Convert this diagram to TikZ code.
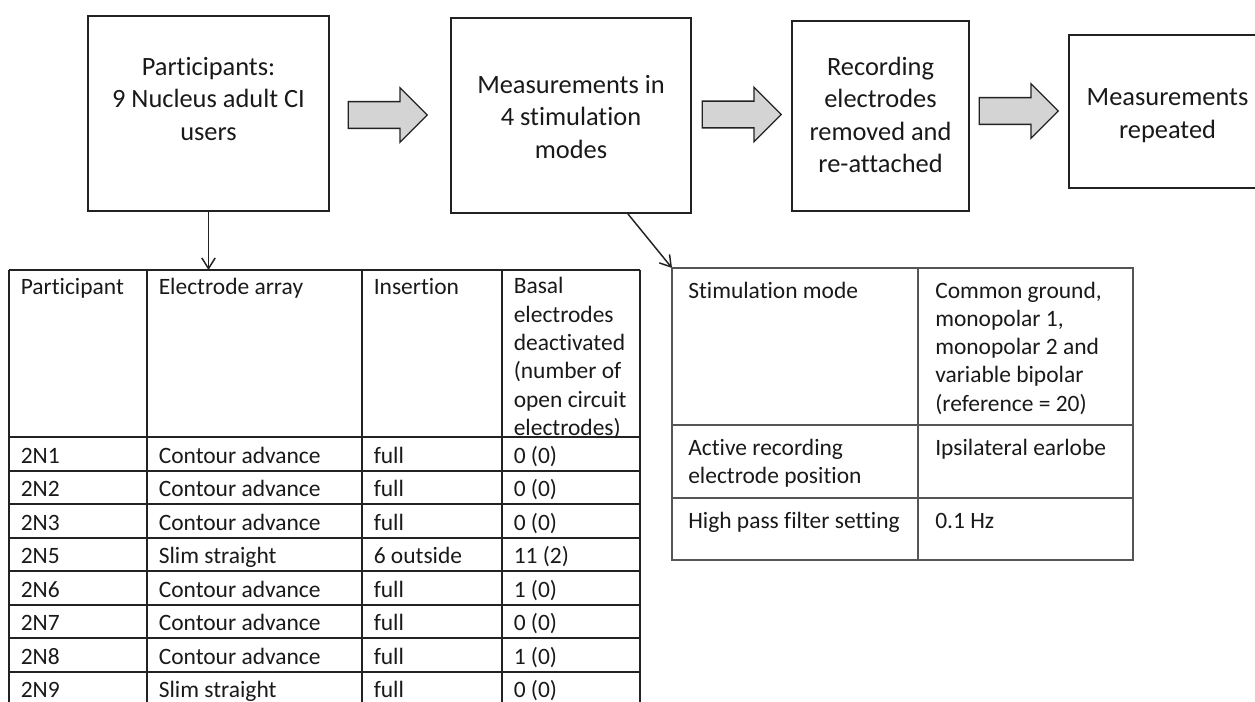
\documentclass[tikz,border=0pt]{standalone}
\usepackage{fontspec}
\setmainfont{Carlito}[Ligatures=NoCommon]
\usetikzlibrary{shapes.arrows}
\usetikzlibrary{arrows.meta}

\definecolor{boxline}{RGB}{34,34,34}
\definecolor{arrowfill}{RGB}{212,212,212}
\definecolor{gridline}{RGB}{85,85,85}

\newcommand{\boxfont}{\fontsize{19.8pt}{24.4pt}\selectfont}
\newcommand{\cellfont}{\fontsize{17.6pt}{21.2pt}\selectfont}

\tikzset{
  stepbox/.style={draw=boxline, line width=1.5pt, rectangle, inner sep=0pt},
  boxtext/.style={font=\boxfont, align=center, text=black!90, inner sep=0pt},
  fatarrow/.style={single arrow, draw=boxline, fill=arrowfill, line width=1pt, inner xsep=0pt,
    inner ysep=9.56pt, minimum height=59.25pt, minimum width=39.75pt, single arrow head extend=10.3pt},
  conn/.style={draw=boxline, line width=1.1pt, -{Straight Barb[length=8pt,width=10pt]}},
  cell/.style={font=\cellfont, anchor=base west, align=left, inner sep=0pt, text=black!90},
  gridA/.style={draw=boxline, line width=1.5pt},
  gridB/.style={draw=gridline, line width=1pt},
}

\begin{document}
\begin{tikzpicture}[x=0.75pt,y=0.75pt,yscale=-1,xscale=1]
\useasboundingbox (0,0) rectangle (1255,702);
\clip (0,0) rectangle (1255,702);

%Shape: Rectangle
\node[stepbox, minimum width=180.75pt, minimum height=146.25pt] (part) at (208.5,113.5) {};
%Shape: Rectangle
\node[stepbox, minimum width=180pt, minimum height=146.25pt] (meas) at (571,115.5) {};
%Shape: Rectangle
\node[stepbox, minimum width=132.75pt, minimum height=142.5pt] (reco) at (880.5,116) {};
%Shape: Rectangle
\node[stepbox, minimum width=147.75pt, minimum height=114.75pt] (rep) at (1167.5,111.5) {};

% Text Node
\node[boxtext] (partlbl) at (208.5,99) {Participants:\\9 Nucleus adult CI\\users};
% Text Node
\node[boxtext] (measlbl) at (571,117) {Measurements in\\4 stimulation\\modes};
% Text Node
\node[boxtext] (recolbl) at (880.5,115) {Recording\\electrodes\\removed and\\re-attached};
% Text Node
\node[boxtext] (replbl) at (1167.5,115.5) {Measurements\\repeated};

%Shape: Right Arrow
\node[fatarrow] (ar1) at (381,115) {};
%Shape: Right Arrow
\node[fatarrow] (ar2) at (735,114.5) {};
%Shape: Right Arrow
\node[fatarrow] (ar3) at (1012,111) {};

%Straight Lines
\coordinate (tabtop) at (208.5,270);
\coordinate (stimtop) at (672,268);
\draw[conn] (part.south) -- (tabtop);
\draw[conn] ([xshift=42.75pt]meas.south) -- (stimtop);

%Table: participants
\foreach \x in {9,147,362,502,640} \draw[gridA] (\x,270) -- (\x,706);
\foreach \y in {270,437,470.5,...,705} \draw[gridA] (9,\y) -- (640,\y);

% Text Node (multi-line cells sit on the baseline of their last line)
\node[cell] (h1) at (20.5,294) {Participant};
\node[cell] (h2) at (158.5,294) {Electrode array};
\node[cell] (h3) at (373.5,294) {Insertion};
\node[cell] (h4) at (513.5,435.3) {Basal\\electrodes\\deactivated\\(number of\\open circuit\\electrodes)};

\foreach \pid/\arr/\ins/\bas [count=\i from 0] in {2N1/Contour advance/full/0 (0),
    2N2/Contour advance/full/0 (0), 2N3/Contour advance/full/0 (0),
    2N5/Slim straight/6 outside/11 (2), 2N6/Contour advance/full/1 (0),
    2N7/Contour advance/full/0 (0), 2N8/Contour advance/full/1 (0),
    2N9/Slim straight/full/0 (0)}{
  \node[cell] (p\i) at (20.5,{463+33.5*\i}) {\pid};
  \node[cell] (e\i) at (158.5,{463+33.5*\i}) {\arr};
  \node[cell] (n\i) at (373.5,{463+33.5*\i}) {\ins};
  \node[cell] (b\i) at (513.5,{463+33.5*\i}) {\bas};
}

%Table: stimulation
\draw[gridB] (672,268) rectangle (1133,560);
\draw[gridB] (918,268) -- (918,560);
\draw[gridB] (672,425) -- (1133,425);
\draw[gridB] (672,498) -- (1133,498);

% Text Node
\node[cell] (s1) at (688,298) {Stimulation mode};
\node[cell] (s2) at (935,411.1) {Common ground,\\monopolar 1,\\monopolar 2 and\\variable bipolar\\(reference = 20)};
\node[cell] (s3) at (688,483.3) {Active recording\\electrode position};
\node[cell] (s4) at (935,455) {Ipsilateral earlobe};
\node[cell] (s5) at (688,528) {High pass filter setting};
\node[cell] (s6) at (935,528) {0.1 Hz};

\end{tikzpicture}
\end{document}
